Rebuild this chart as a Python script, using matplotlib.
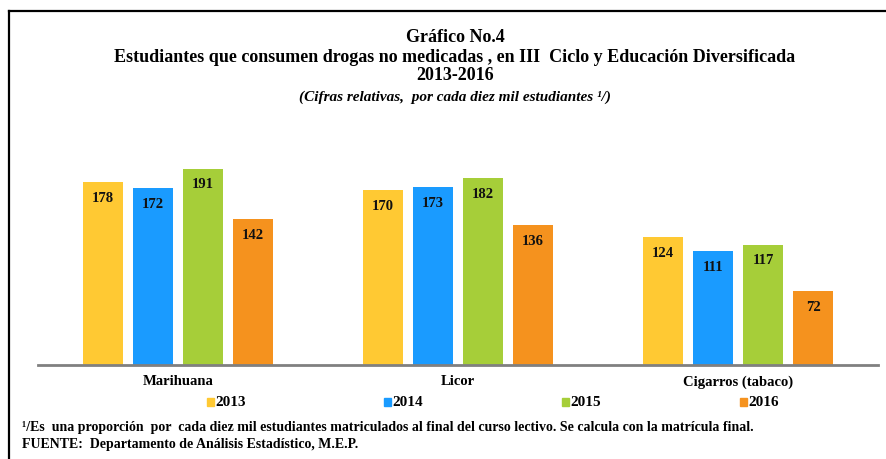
import matplotlib.pyplot as plt
import numpy as np

categories = ['Marihuana', 'Licor', 'Cigarros (tabaco)']
years = ['2013', '2014', '2015', '2016']
values = {
    '2013': [178, 170, 124],
    '2014': [172, 173, 111],
    '2015': [191, 182, 117],
    '2016': [142, 136, 72],
}
colors = ['#FFC933', '#1A9BFF', '#A6CE39', '#F5921E']

serif = ['Liberation Serif', 'DejaVu Serif']
plt.rcParams['font.family'] = serif

fig = plt.figure(figsize=(8.86, 4.6), dpi=100)

# outer frame (left + top lines only are visible)
fig.add_artist(plt.Line2D([9 / 886, 9 / 886], [0, 1 - 12 / 460], color='black', lw=1.6,
                          transform=fig.transFigure))
fig.add_artist(plt.Line2D([9 / 886, 1], [1 - 12 / 460, 1 - 12 / 460], color='black', lw=1.6,
                          transform=fig.transFigure))

ax = fig.add_axes([38 / 886, 94 / 460, 840 / 886, 236.5 / 460])
x = np.arange(len(categories))
width = 0.143
step = 0.179
for i, yr in enumerate(years):
    pos = x + (i - 1.5) * step
    bars = ax.bar(pos, values[yr], width=width, color=colors[i], label=yr, zorder=2)
    for b, v in zip(bars, values[yr]):
        ax.text(b.get_x() + b.get_width() / 2, v - 8.5, str(v), ha='center', va='top',
                fontsize=10.5, fontweight='bold', color='#111111')

ax.set_xlim(-0.5, 2.5)
ax.set_ylim(0, 230)
ax.set_yticks([])
ax.set_xticks([])
for s in ['top', 'right', 'left']:
    ax.spines[s].set_visible(False)
ax.spines['bottom'].set_color('#808080')
ax.spines['bottom'].set_linewidth(2)
ax.spines['bottom'].set_zorder(3)

for i, c in enumerate(categories):
    fig.text((38 + 280 * i + 140) / 886, 1 - 382 / 460, c, ha='center', va='center',
             fontsize=10.5, fontweight='bold')

# legend
leg_x = [207, 384, 562, 740]
for i, yr in enumerate(years):
    fig.patches.append(plt.Rectangle((leg_x[i] / 886, 1 - 407 / 460), 7 / 886, 8 / 460,
                                     color=colors[i], transform=fig.transFigure))
    fig.text((leg_x[i] + 8) / 886, 1 - 403 / 460, yr, ha='left', va='center',
             fontsize=11, fontweight='bold')

# titles
fig.text(455 / 886, 1 - 38 / 460, 'Gráfico No.4', ha='center', va='center',
         fontsize=13, fontweight='bold')
fig.text(455 / 886, 1 - 57 / 460,
         'Estudiantes que consumen drogas no medicadas , en III  Ciclo y Educación Diversificada',
         ha='center', va='center', fontsize=13, fontweight='bold')
fig.text(455 / 886, 1 - 76 / 460, '2013-2016', ha='center', va='center',
         fontsize=13, fontweight='bold')
fig.text(455 / 886, 1 - 97 / 460, '(Cifras relativas,  por cada diez mil estudiantes \u00b9/)',
         ha='center', va='center', fontsize=11, fontweight='bold', style='italic')

# footnotes
fig.text(22 / 886, 1 - 428 / 460,
         '\u00b9/Es  una proporción  por  cada diez mil estudiantes matriculados al final del curso lectivo. Se calcula con la matrícula final.',
         ha='left', va='center', fontsize=10, fontweight='bold')
fig.text(22 / 886, 1 - 445 / 460, 'FUENTE:  Departamento de Análisis Estadístico, M.E.P.',
         ha='left', va='center', fontsize=10, fontweight='bold')

fig.savefig('out.png', dpi=100, facecolor='white')
